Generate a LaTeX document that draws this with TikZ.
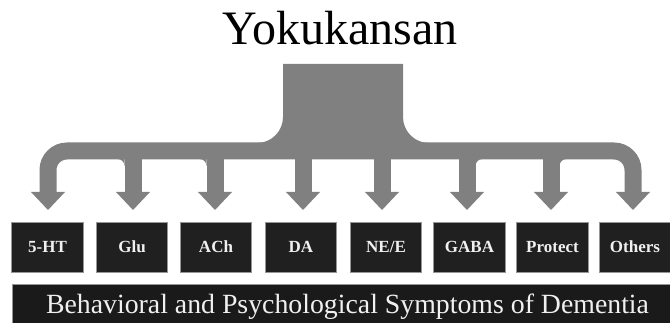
\documentclass[tikz,border=0pt]{standalone}
\usepackage{fontspec}
\setmainfont{Liberation Serif}
\newfontfamily\tnr{Liberation Serif}
\definecolor{arrowgray}{RGB}{128,128,128}
\definecolor{boxfill}{RGB}{32,32,32}
\definecolor{boxedge}{RGB}{150,150,150}
\definecolor{barfill}{RGB}{26,26,26}
\definecolor{lighttext}{RGB}{240,240,240}
\begin{document}
\begin{tikzpicture}[x=1pt,y=-1pt,
  flow/.style={fill=arrowgray},
  flowline/.style={draw=arrowgray, line width=17pt, rounded corners=19pt},
  box/.style={draw=boxedge, line width=0.6pt, fill=boxfill, text=lighttext,
    minimum width=71.5pt, minimum height=50pt, inner sep=0pt,
    font=\tnr\fontsize{17}{17}\selectfont\bfseries},
  bar/.style={fill=barfill, draw=boxedge, line width=0.6pt},
  bartext/.style={text=lighttext, inner sep=0pt, anchor=base, font=\tnr\fontsize{27.8}{27.8}\selectfont},
  titletext/.style={inner sep=0pt, anchor=base, font=\tnr\fontsize{48}{48}\selectfont}]
\useasboundingbox (0,0) rectangle (670,323);
% title
\node[titletext] (title) at (340,45) {Yokukansan};
% central block
\def\R{26}
\fill[flow] (283,64) -- (403,64) -- (403,143-\R)
  .. controls (403,143-0.448*\R) and (403+0.448*\R,143) .. (403+\R,143)
  -- (283-\R,143)
  .. controls (283-0.448*\R,143) and (283,143-0.448*\R) .. (283,143-\R) -- cycle;
% horizontal distributor with outer stems
\draw[flowline] (48,193) -- (48,151) -- (633,151) -- (633,193);
% inner stems
\foreach \x in {133,215,303,382,467,551}
  \fill[flow] (\x-8.5,151) rectangle (\x+8.5,193);
% fillets
\def\r{7}
\foreach \x in {133,215}
  \fill[flow] (\x-8.5-\r,159) -- (\x-8.5,159) -- (\x-8.5,159+\r)
    .. controls (\x-8.5,159+0.448*\r) and (\x-8.5-0.448*\r,159) .. cycle;
\foreach \x in {467,551}
  \fill[flow] (\x+8.5+\r,159) -- (\x+8.5,159) -- (\x+8.5,159+\r)
    .. controls (\x+8.5,159+0.448*\r) and (\x+8.5+0.448*\r,159) .. cycle;
% arrowheads
\foreach \x in {48,133,215,303,382,467,551,633}
  \fill[flow] (\x-17,192) -- (\x+17,192) -- (\x,210) -- cycle;
% boxes
\node[box] (ht) at (47.5,247) {5-HT};
\node[box] (glu) at (132,247) {Glu};
\node[box] (ach) at (216,247) {ACh};
\node[box] (da) at (301,247) {DA};
\node[box] (ne) at (386,247) {NE/E};
\node[box] (gaba) at (469.5,247) {GABA};
\node[box] (prot) at (552.5,247) {Protect};
\node[box] (oth) at (635,247) {Others};
% bottom bar
\path[bar] (12,284) rectangle (672,325);
\node[bartext] (bpsd) at (347.5,314) {Behavioral and Psychological Symptoms of Dementia};
\end{tikzpicture}
\end{document}
